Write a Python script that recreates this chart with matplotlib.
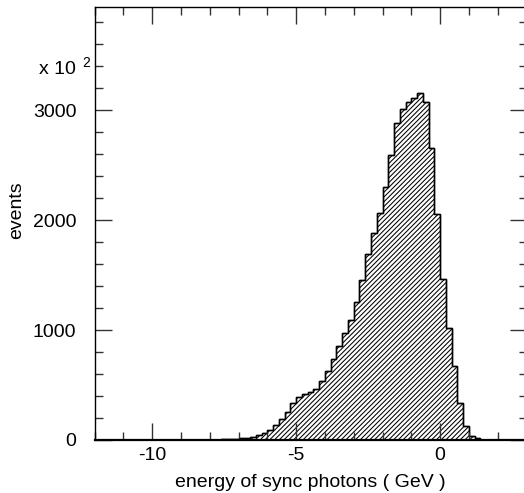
import numpy as np
import matplotlib
matplotlib.use("Agg")
import matplotlib.pyplot as plt
from matplotlib.ticker import MultipleLocator

plt.rcParams['font.family'] = ['Liberation Sans', 'DejaVu Sans']
plt.rcParams['axes.unicode_minus'] = False
plt.rcParams['hatch.linewidth'] = 0.75

# bin edges (GeV), 0.2 wide
bin_lo = -8.2
bin_width = 0.2
# counts per bin (in units of 10^2 events)
counts = [1, 2, 3, 5, 7, 10, 15, 21, 30, 45,
          67, 94, 136, 188, 258, 333, 394, 415, 433, 464,
          535, 625, 733, 855, 970, 1094, 1258, 1458, 1694, 1879,
          2068, 2300, 2591, 2879, 3006, 3073, 3106, 3152, 3076, 2658,
          2052, 1461, 1015, 676, 333, 124, 33, 15, 3]
edges = bin_lo + bin_width * np.arange(len(counts) + 1)

x_label = "energy of sync photons ( GeV )"
y_label = "events"
x_lim = (-12, 3)
y_lim = (0, 3935)
fs = 14

fig = plt.figure(figsize=(5.24, 4.93), dpi=100)
ax = fig.add_axes([94.5 / 524, 53 / 493, 432 / 524, 432.7 / 493])

ax.stairs(counts, edges, fill=True, facecolor='white', edgecolor='black',
          hatch='///////', linewidth=1.0)
ax.stairs(counts, edges, fill=False, edgecolor='black', linewidth=1.0)

ax.set_xlim(*x_lim)
ax.set_ylim(*y_lim)

ax.xaxis.set_major_locator(MultipleLocator(5))
ax.xaxis.set_minor_locator(MultipleLocator(1))
ax.yaxis.set_major_locator(MultipleLocator(1000))
ax.yaxis.set_minor_locator(MultipleLocator(200))

ax.tick_params(which='both', direction='in', top=True, right=True,
               width=1.0, color='#333333')
ax.tick_params(which='major', length=12)
ax.tick_params(which='minor', length=6)
ax.tick_params(axis='x', which='major', labelsize=fs, pad=5)
ax.tick_params(axis='y', which='major', labelsize=fs, pad=13)

for side in ['left', 'top', 'right']:
    ax.spines[side].set_linewidth(1.0)
ax.spines['bottom'].set_linewidth(1.6)

ax.set_xlabel(x_label, fontsize=fs, labelpad=7)
ax.set_ylabel(y_label, fontsize=fs)
ax.yaxis.set_label_coords(-0.16, 0.53)

# exponent marker at the top of the y axis
fig.text(76 / 524, 1 - 70 / 493, "x 10", fontsize=fs, ha='right', va='center')
fig.text(82 / 524, 1 - 63 / 493, "2", fontsize=10, ha='left', va='center')

fig.savefig("out.png", dpi=100)
